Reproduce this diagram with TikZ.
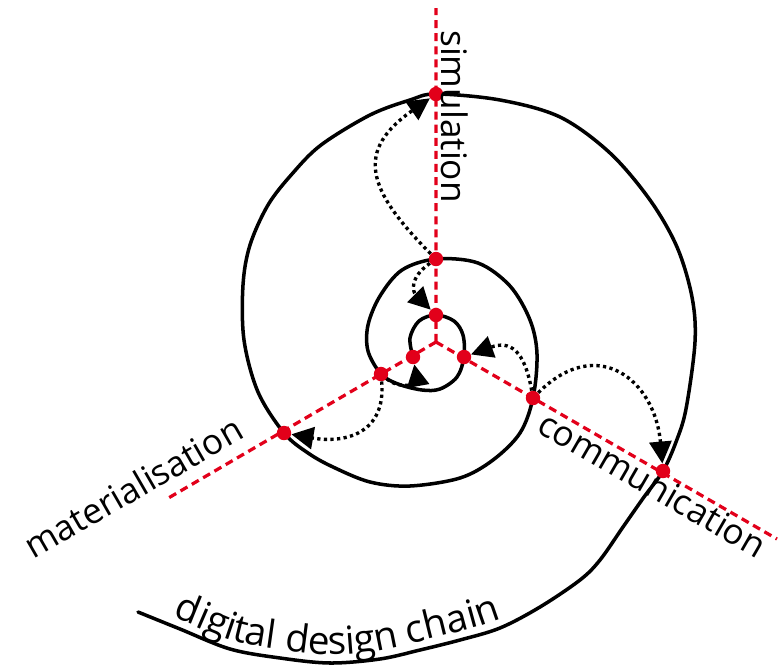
\documentclass[tikz,border=0pt]{standalone}
\usepackage{fontspec}
\setmainfont{Open Sans}
\usepackage{xcolor}
\usetikzlibrary{arrows.meta, decorations.text, backgrounds}

\definecolor{axisred}{RGB}{226,0,26}
\newcommand{\lblfont}{\fontsize{25pt}{30pt}\selectfont}
\newcommand{\chainfont}{\fontsize{27.5pt}{32pt}\selectfont}

\begin{document}
\begin{tikzpicture}[>={Triangle[length=0.55cm,width=0.55cm]},x=0.025cm,y=0.025cm]
          \tikzstyle{dot}=[circle,fill=axisred,inner sep=0pt,minimum size=0.36cm]
          \tikzstyle{axis}=[axisred,line width=2.3pt,dash pattern=on 5.7pt off 3.6pt]
          \tikzstyle{spiral}=[black,line width=2.5pt,line cap=round]
          \tikzstyle{hop}=[->,black,line width=2.4pt,dash pattern=on 2.3pt off 2.4pt]
          \tikzstyle{lbl}=[inner sep=0pt,font=\lblfont]

          \useasboundingbox (0,0) rectangle (779,-666);

          \coordinate (c) at (436,-342);
          \coordinate (simend) at (436,-8);
          \coordinate (matend) at (165,-500);
          \coordinate (comend) at (777,-539);

          \node[dot] (sim0) at (436,-315) {};
          \node[dot] (sim1) at (436,-259) {};
          \node[dot] (sim2) at (436,-94) {};
          \node[dot] (mat0) at (413,-357) {};
          \node[dot] (mat1) at (381,-374) {};
          \node[dot] (mat2) at (284,-433) {};
          \node[dot] (com0) at (464,-357) {};
          \node[dot] (com1) at (533,-398) {};
          \node[dot] (com2) at (663,-471) {};

          \begin{scope}[on background layer]
            \draw[axis] (c) -- (simend) (c) -- (matend) (c) -- (comend);
            \draw[spiral] plot[smooth, tension=0.55] coordinates {
              (mat0.center) (410,-338) (419,-321) (sim0.center) (454,-321) (463,-335)
              (com0.center) (457,-377) (440,-389) (422,-390) (398,-384)
              (mat1.center) (368,-351) (368,-325) (380,-296) (402,-270)
              (sim1.center) (478,-263) (510,-286) (530,-320) (537,-354)
              (com1.center) (520,-433) (493,-460) (460,-478) (410,-486) (370,-482) (333,-467) (308,-453)
              (mat2.center) (258,-392) (244,-340) (243,-285) (250,-245) (268,-205) (292,-174) (321,-145) (370,-115) (410,-100)
              (sim2.center) (500,-100) (560,-117) (610,-153) (650,-200) (677,-247) (692,-297) (695,-342) (686,-409) (676,-442)
              (com2.center) (644,-497) (623,-527) (600,-560) (580,-580) (540,-607) (500,-628) (460,-640) (420,-650)
              (380,-659) (330,-663) (280,-658) (230,-649) (180,-629) (138,-612)};
          \end{scope}

          \path (sim1) edge [hop, out=135, in=215, looseness=1.5] (sim2)
                (sim1) edge [hop, out=215, in=135, looseness=1.4] (sim0)
                (com1) edge [hop, out=45, in=95, looseness=1.5] (com2)
                (com1) edge [hop, out=100, in=20, looseness=1.5] (com0)
                (mat1) edge [hop, out=-85, in=-10, looseness=1.3] (mat2)
                (mat1) edge [hop, out=-40, in=-80, looseness=1.5] (mat0);

          \node[lbl, rotate=-90, anchor=base west] (simlbl) at (441,-30) {simulation};
          \node[lbl, rotate=30, anchor=base west] (matlbl) at (33,-560) {materialisation};
          \node[lbl, rotate=-30, anchor=base west] (comlbl) at (535,-431) {communication};

          \path[decorate, decoration={text along path, text={|\chainfont|digital design chain},
                text align={left indent=0.85cm}, raise=6pt}]
                plot[smooth, tension=0.55] coordinates {(138,-612) (180,-629) (230,-649) (280,-658)
                (330,-663) (380,-659) (420,-650) (460,-640) (500,-628) (540,-607) (580,-580)};
        \end{tikzpicture}
\end{document}
